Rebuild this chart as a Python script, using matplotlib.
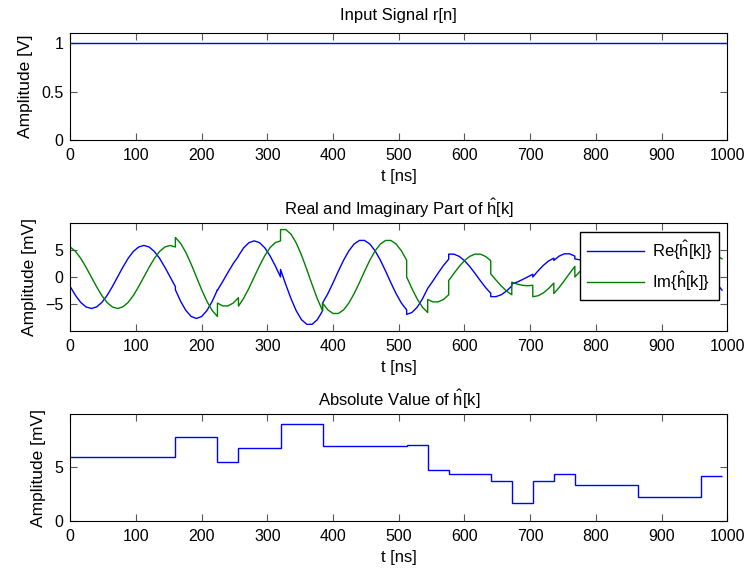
import numpy as np
import matplotlib
matplotlib.use("Agg")
import matplotlib.pyplot as plt

plt.rcParams['font.family'] = ['Liberation Sans', 'DejaVu Sans']
plt.rcParams['mathtext.fontset'] = 'custom'
plt.rcParams['mathtext.rm'] = 'Liberation Sans'
plt.rcParams['mathtext.it'] = 'Liberation Sans:italic'
plt.rcParams['font.size'] = 12

# ----------------------------------------
# Data
# ----------------------------------------
# input signal r[n]
r_t_ns = [0, 1000]
r_volt = [1.0, 1.0]

# block edges of the channel estimate [ns]
seg_edges_ns = [0, 160, 224, 256, 320, 384, 512, 544, 576, 640,
                672, 704, 736, 768, 864, 960, 992]

# |h| per block [mV]
abs_mv = [5.87, 7.73, 5.46, 6.72, 8.93, 6.88, 6.96, 4.70, 4.30,
          3.71, 1.63, 3.68, 4.36, 3.35, 2.21, 4.17]

# Re{h} samples per block, every 8 ns [mV]
re_mv = [
    [-1.81, -3.45, -4.75, -5.58, -5.87, -5.58, -4.75, -3.45, -1.81, 0.00, 1.81,
     3.45, 4.75, 5.58, 5.87, 5.58, 4.75, 3.45, 1.81, 0.00, -1.81],
    [-2.39, -4.54, -6.25, -7.35, -7.73, -7.35, -6.25, -4.54, -2.39],
    [-2.48, -0.85, 0.85, 2.48, 3.86],
    [3.95, 5.44, 6.39, 6.72, 6.39, 5.44, 3.95, 2.08, 0.00],
    [1.40, -1.40, -4.05, -6.31, -7.96, -8.82, -8.82, -7.96, -6.31],
    [-4.86, -3.12, -1.08, 1.08, 3.12, 4.86, 6.13, 6.80, 6.80, 6.13, 4.86,
     3.12, 1.08, -1.08, -3.12, -4.86, -6.13],
    [-6.96, -6.62, -5.63, -4.09, -2.15],
    [-2.13, -0.74, 0.74, 2.13, 3.32],
    [4.25, 4.25, 3.83, 3.04, 1.95, 0.67, -0.67, -1.95, -3.04],
    [-3.66, -3.66, -3.31, -2.62, -1.68],
    [-1.32, -0.96, -0.50, 0.00, 0.50],
    [0.00, 1.14, 2.16, 2.98, 3.50],
    [3.08, 3.88, 4.31, 4.31, 3.88],
    [3.35, 3.19, 2.71, 1.97, 1.04, 0.00, -1.04, -1.97, -2.71, -3.19, -3.35,
     -3.19, -2.71],
    [-2.10, -1.79, -1.30, -0.68, 0.00, 0.68, 1.30, 1.79, 2.10, 2.21, 2.10,
     1.79, 1.30],
    [2.45, 1.29, 0.00, -1.29, -2.45],
]

# Im{h} samples per block, every 8 ns [mV]
im_mv = [
    [5.58, 4.75, 3.45, 1.81, 0.00, -1.81, -3.45, -4.75, -5.58, -5.87, -5.58,
     -4.75, -3.45, -1.81, 0.00, 1.81, 3.45, 4.75, 5.58, 5.87, 5.58],
    [7.35, 6.25, 4.54, 2.39, 0.00, -2.39, -4.54, -6.25, -7.35],
    [-4.86, -5.39, -5.39, -4.86, -3.86],
    [-5.44, -3.95, -2.08, 0.00, 2.08, 3.95, 5.44, 6.39, 6.72],
    [8.82, 8.82, 7.96, 6.31, 4.05, 1.40, -1.40, -4.05, -6.31],
    [-4.86, -6.13, -6.80, -6.80, -6.13, -4.86, -3.12, -1.08, 1.08, 3.12, 4.86,
     6.13, 6.80, 6.80, 6.13, 4.86, 3.12],
    [0.00, -2.15, -4.09, -5.63, -6.62],
    [-4.19, -4.64, -4.64, -4.19, -3.32],
    [-0.67, 0.67, 1.95, 3.04, 3.83, 4.25, 4.25, 3.83, 3.04],
    [0.58, -0.58, -1.68, -2.62, -3.31],
    [-0.96, -1.32, -1.55, -1.63, -1.55],
    [-3.68, -3.50, -2.98, -2.16, -1.14],
    [-3.08, -1.98, -0.68, 0.68, 1.98],
    [0.00, 1.04, 1.97, 2.71, 3.19, 3.35, 3.19, 2.71, 1.97, 1.04, 0.00, -1.04,
     -1.97],
    [-0.68, -1.30, -1.79, -2.10, -2.21, -2.10, -1.79, -1.30, -0.68, 0.00, 0.68,
     1.30, 1.79],
    [3.37, 3.97, 4.17, 3.97, 3.37],
]

x_ticks = list(range(0, 1001, 100))


def join_blocks(edges, blocks):
    """Concatenate per-block samples, placing them evenly inside each block."""
    tt, vv = [], []
    for i, vals in enumerate(blocks):
        tt.extend(np.linspace(edges[i], edges[i + 1], len(vals)))
        vv.extend(vals)
    return np.array(tt), np.array(vv)


t_h, re_line = join_blocks(seg_edges_ns, re_mv)
_, im_line = join_blocks(seg_edges_ns, im_mv)

# ----------------------------------------
# Figure
# ----------------------------------------
fig = plt.figure(figsize=(7.5, 5.72), dpi=100)
ax1 = fig.add_axes([0.0937, 0.7552, 0.876, 0.1865])
ax2 = fig.add_axes([0.0937, 0.4219, 0.876, 0.1878])
ax3 = fig.add_axes([0.0937, 0.0892, 0.876, 0.1865])

blue = (0, 0, 1)
green = (0, 0.5, 0)

ax1.plot(r_t_ns, r_volt, color=blue, linewidth=1.0)
ax1.set_ylim(0, 1.1)
ax1.set_yticks([0, 0.5, 1])
ax1.set_yticklabels(['0', '0.5', '1'])
ax1.set_ylabel('Amplitude [V]', fontsize=12.5, labelpad=6)
ax1.set_title('Input Signal r[n]', fontsize=12, pad=9.5)

ax2.plot(t_h, re_line, color=blue, linewidth=1.0, label=r'Re$\{\hat{\mathrm{h}}$[k]$\}$')
ax2.plot(t_h, im_line, color=green, linewidth=1.0, label=r'Im$\{\hat{\mathrm{h}}$[k]$\}$')
ax2.set_ylim(-10, 10)
ax2.set_yticks([-5, 0, 5])
ax2.set_ylabel('Amplitude [mV]', fontsize=12.5, labelpad=6)
ax2.set_title(r'Real and Imaginary Part of $\hat{\mathrm{h}}$[k]', fontsize=12, pad=6)
leg = ax2.legend(loc='upper right', bbox_to_anchor=(0.988, 0.919), fancybox=False,
                 framealpha=1, edgecolor='black', handlelength=3.4,
                 handletextpad=0.5, borderaxespad=0, fontsize=12,
                 labelspacing=0.45)
leg.get_frame().set_linewidth(1.0)

ax3.stairs(abs_mv, seg_edges_ns, baseline=None, color=blue, linewidth=1.0)
ax3.set_ylim(0, 9.8)
ax3.set_yticks([0, 5])
ax3.set_ylabel('Amplitude [mV]', fontsize=12.5, labelpad=6)
ax3.set_title(r'Absolute Value of $\hat{\mathrm{h}}$[k]', fontsize=12, pad=6)

for ax in (ax1, ax2, ax3):
    ax.set_xlim(0, 1000)
    ax.set_xticks(x_ticks)
    ax.set_xlabel('t [ns]', fontsize=12, labelpad=4)
    ax.tick_params(direction='in', length=5, width=0.8, top=True, right=True,
                   labelsize=11.5, color='0.35')
    ax.tick_params(axis='x', pad=6)
    ax.tick_params(axis='y', pad=5)
    for sp in ax.spines.values():
        sp.set_linewidth(0.8)

plt.savefig('out.png', dpi=100)
